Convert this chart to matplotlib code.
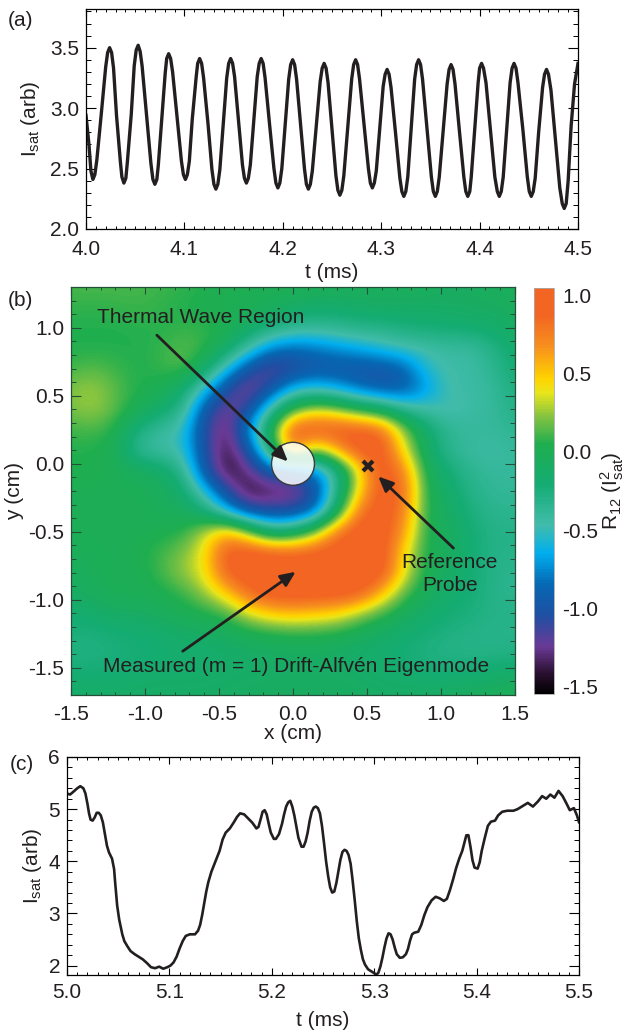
import matplotlib
matplotlib.use("Agg")
import matplotlib.pyplot as plt
from matplotlib.colors import LinearSegmentedColormap
from matplotlib.patches import Ellipse
from matplotlib.ticker import MultipleLocator

plt.rcParams['font.family'] = ['Liberation Sans', 'DejaVu Sans']
plt.rcParams['mathtext.fontset'] = 'custom'
plt.rcParams['mathtext.rm'] = 'Liberation Sans'
plt.rcParams['mathtext.default'] = 'rm'
plt.rcParams['axes.unicode_minus'] = False

W, H = 628, 1034
INK = '#231f20'
FS = 15

# panel (a)
t_a = [4.000, 4.003, 4.005, 4.007, 4.009, 4.011, 4.0155, 4.020, 4.022, 4.024, 4.026, 4.028, 4.031, 4.035, 4.0365, 4.0385,
       4.0405, 4.042, 4.046, 4.049, 4.051, 4.053, 4.055, 4.057, 4.0615, 4.066, 4.068, 4.070, 4.072, 4.0735, 4.077, 4.0805,
       4.082, 4.084, 4.086, 4.088, 4.0925, 4.097, 4.099, 4.101, 4.103, 4.105, 4.108, 4.112, 4.1135, 4.1155, 4.1175, 4.1195,
       4.124, 4.128, 4.130, 4.132, 4.134, 4.136, 4.1395, 4.143, 4.145, 4.147, 4.149, 4.151, 4.155, 4.159, 4.161, 4.163,
       4.165, 4.167, 4.1705, 4.174, 4.176, 4.178, 4.180, 4.182, 4.1865, 4.191, 4.193, 4.195, 4.197, 4.199, 4.2025, 4.206,
       4.208, 4.210, 4.212, 4.214, 4.218, 4.222, 4.224, 4.226, 4.228, 4.230, 4.234, 4.238, 4.240, 4.242, 4.244, 4.246,
       4.250, 4.254, 4.256, 4.258, 4.260, 4.262, 4.266, 4.270, 4.272, 4.274, 4.276, 4.278, 4.2825, 4.287, 4.289, 4.291,
       4.293, 4.295, 4.2985, 4.302, 4.304, 4.306, 4.308, 4.310, 4.3145, 4.319, 4.321, 4.323, 4.325, 4.327, 4.3305, 4.334,
       4.336, 4.338, 4.340, 4.342, 4.3465, 4.351, 4.353, 4.355, 4.357, 4.359, 4.363, 4.367, 4.369, 4.371, 4.373, 4.375,
       4.3795, 4.384, 4.386, 4.388, 4.390, 4.3915, 4.395, 4.3985, 4.400, 4.402, 4.404, 4.4065, 4.411, 4.4155, 4.418, 4.420,
       4.422, 4.424, 4.4275, 4.431, 4.433, 4.435, 4.437, 4.439, 4.444, 4.4485, 4.4505, 4.4525, 4.4545, 4.4565, 4.460, 4.464,
       4.466, 4.468, 4.470, 4.4725, 4.477, 4.4815, 4.484, 4.486, 4.488, 4.490, 4.493, 4.4965, 4.500]
v_a = [2.94, 2.70, 2.48, 2.41, 2.45, 2.57, 2.95, 3.34, 3.46, 3.50, 3.46, 3.33, 2.94, 2.55, 2.43, 2.38,
       2.42, 2.55, 2.95, 3.35, 3.48, 3.52, 3.47, 3.35, 2.95, 2.54, 2.41, 2.37, 2.41, 2.53, 2.91, 3.29,
       3.41, 3.45, 3.41, 3.30, 2.93, 2.56, 2.45, 2.41, 2.45, 2.56, 2.91, 3.26, 3.37, 3.41, 3.37, 3.25,
       2.87, 2.49, 2.37, 2.33, 2.37, 2.49, 2.87, 3.25, 3.37, 3.41, 3.37, 3.26, 2.90, 2.53, 2.42, 2.38,
       2.42, 2.53, 2.90, 3.26, 3.37, 3.41, 3.37, 3.25, 2.87, 2.50, 2.38, 2.34, 2.38, 2.50, 2.87, 3.24,
       3.36, 3.40, 3.36, 3.24, 2.87, 2.50, 2.37, 2.33, 2.37, 2.48, 2.85, 3.22, 3.33, 3.37, 3.33, 3.21,
       2.82, 2.44, 2.32, 2.28, 2.32, 2.44, 2.84, 3.24, 3.36, 3.40, 3.36, 3.24, 2.87, 2.50, 2.38, 2.34,
       2.38, 2.48, 2.83, 3.18, 3.28, 3.32, 3.28, 3.17, 2.80, 2.42, 2.31, 2.27, 2.31, 2.43, 2.83, 3.24,
       3.36, 3.40, 3.36, 3.24, 2.83, 2.43, 2.31, 2.27, 2.31, 2.43, 2.81, 3.20, 3.32, 3.36, 3.32, 3.20,
       2.81, 2.43, 2.31, 2.27, 2.31, 2.43, 2.82, 3.21, 3.33, 3.37, 3.33, 3.21, 2.82, 2.43, 2.31, 2.27,
       2.31, 2.43, 2.82, 3.21, 3.33, 3.37, 3.33, 3.21, 2.82, 2.43, 2.31, 2.27, 2.31, 2.42, 2.80, 3.17,
       3.28, 3.32, 3.28, 3.15, 2.75, 2.34, 2.21, 2.17, 2.21, 2.40, 2.85, 3.20, 3.37]

# panel (c)
t_c = [5.000, 5.003, 5.006, 5.010, 5.013, 5.016, 5.018, 5.020, 5.0215, 5.023, 5.025, 5.027, 5.029, 5.031, 5.033, 5.035,
       5.037, 5.039, 5.041, 5.044, 5.046, 5.047, 5.049, 5.051, 5.054, 5.056, 5.059, 5.062, 5.066, 5.070, 5.074, 5.078,
       5.082, 5.086, 5.090, 5.094, 5.098, 5.101, 5.104, 5.107, 5.110, 5.113, 5.116, 5.120, 5.125, 5.128, 5.130, 5.132,
       5.134, 5.136, 5.138, 5.141, 5.145, 5.149, 5.152, 5.155, 5.159, 5.163, 5.166, 5.169, 5.173, 5.177, 5.181, 5.185,
       5.187, 5.189, 5.191, 5.193, 5.195, 5.197, 5.199, 5.202, 5.204, 5.207, 5.210, 5.212, 5.214, 5.216, 5.218, 5.220,
       5.222, 5.224, 5.226, 5.229, 5.231, 5.233, 5.235, 5.237, 5.239, 5.241, 5.243, 5.245, 5.247, 5.249, 5.251, 5.253,
       5.255, 5.257, 5.259, 5.261, 5.263, 5.265, 5.267, 5.269, 5.271, 5.273, 5.275, 5.277, 5.279, 5.281, 5.283, 5.285,
       5.287, 5.289, 5.291, 5.294, 5.298, 5.302, 5.304, 5.306, 5.308, 5.310, 5.312, 5.314, 5.316, 5.318, 5.320, 5.322,
       5.325, 5.328, 5.331, 5.333, 5.335, 5.337, 5.339, 5.343, 5.346, 5.349, 5.352, 5.356, 5.360, 5.364, 5.368, 5.371,
       5.374, 5.377, 5.380, 5.383, 5.386, 5.388, 5.390, 5.392, 5.394, 5.396, 5.398, 5.401, 5.403, 5.405, 5.408, 5.411,
       5.414, 5.418, 5.421, 5.425, 5.430, 5.436, 5.440, 5.445, 5.450, 5.455, 5.460, 5.464, 5.468, 5.472, 5.476, 5.480,
       5.484, 5.488, 5.491, 5.495, 5.498, 5.500]
v_c = [5.30, 5.28, 5.33, 5.40, 5.44, 5.40, 5.30, 5.10, 4.92, 4.80, 4.78, 4.84, 4.93, 4.93, 4.88, 4.75,
       4.52, 4.30, 4.17, 4.05, 3.85, 3.60, 3.15, 2.88, 2.60, 2.47, 2.37, 2.28, 2.22, 2.17, 2.12, 2.05,
       1.97, 1.95, 1.98, 1.94, 1.97, 2.00, 2.06, 2.17, 2.33, 2.47, 2.57, 2.60, 2.60, 2.67, 2.78, 2.97,
       3.20, 3.42, 3.60, 3.80, 4.00, 4.20, 4.42, 4.55, 4.63, 4.75, 4.85, 4.92, 4.90, 4.82, 4.74, 4.63,
       4.66, 4.80, 4.95, 4.98, 4.90, 4.72, 4.55, 4.43, 4.43, 4.52, 4.72, 4.90, 5.05, 5.13, 5.16, 5.05,
       4.88, 4.66, 4.45, 4.28, 4.28, 4.38, 4.55, 4.78, 4.95, 5.03, 5.05, 5.02, 4.92, 4.68, 4.35, 4.00,
       3.72, 3.50, 3.40, 3.42, 3.58, 3.80, 4.03, 4.18, 4.22, 4.20, 4.12, 3.95, 3.62, 3.25, 2.85, 2.52,
       2.30, 2.12, 2.02, 1.93, 1.88, 1.83, 1.86, 1.98, 2.15, 2.35, 2.52, 2.62, 2.60, 2.50, 2.35, 2.22,
       2.15, 2.16, 2.22, 2.32, 2.48, 2.60, 2.63, 2.65, 2.78, 2.97, 3.12, 3.25, 3.32, 3.29, 3.24, 3.28,
       3.45, 3.65, 3.87, 4.05, 4.20, 4.35, 4.50, 4.50, 4.28, 4.02, 3.88, 3.86, 3.98, 4.20, 4.45, 4.68,
       4.76, 4.78, 4.88, 4.95, 4.97, 4.97, 5.00, 5.06, 5.12, 5.05, 5.15, 5.25, 5.20, 5.28, 5.22, 5.35,
       5.25, 5.10, 4.98, 5.02, 4.88, 4.75]

# panel (b) : correlation map, one row per y, one column per x
x_b = [-1.5, -1.35, -1.2, -1.05, -0.9, -0.75, -0.6, -0.45, -0.3, -0.15, 0.0,
       0.15, 0.3, 0.45, 0.6, 0.75, 0.9, 1.05, 1.2, 1.35, 1.5]
y_b = [1.3, 1.15, 1.0, 0.85, 0.7, 0.55, 0.4, 0.25, 0.1, -0.05, -0.2,
       -0.35, -0.5, -0.65, -0.8, -0.95, -1.1, -1.25, -1.4, -1.55, -1.7]
r12 = [
    [.12, .12, .12, .12, .10, .08, .05, .03, .02, .02, 0, 0, -.02, -.03, -.03, -.05, -.05, -.08, -.08, -.05, -.03],
    [.08, .08, .08, .10, .08, .05, .03, .02, 0, -.03, -.10, -.15, -.15, -.12, -.10, -.10, -.10, -.10, -.08, -.08, -.05],
    [.05, .05, .05, .06, .06, .08, .08, .03, -.10, -.25, -.35, -.38, -.35, -.30, -.30, -.25, -.22, -.20, -.18, -.15, -.10],
    [.05, .05, .05, .05, .08, .15, .10, -.10, -.42, -.75, -.85, -.80, -.72, -.65, -.55, -.48, -.45, -.42, -.42, -.30, -.15],
    [.10, .15, .10, .05, .08, .15, -.10, -.55, -1.0, -1.25, -1.1, -1.0, -1.0, -1.0, -1.0, -.90, -.55, -.45, -.45, -.35, -.20],
    [.22, .27, .15, .05, .03, -.15, -.55, -1.05, -1.35, -1.0, -.60, -.55, -.65, -.85, -.95, -.95, -.72, -.45, -.45, -.40, -.25],
    [.20, .27, .15, 0, -.15, -.30, -.95, -1.3, -1.05, -.40, .10, .35, .25, .05, -.10, -.35, -.45, -.50, -.45, -.40, -.30],
    [.10, .12, .05, -.25, -.40, -.50, -1.05, -1.4, -.70, 0, 1.0, 1.0, 1.0, .95, .85, .25, -.15, -.35, -.40, -.40, -.35],
    [.05, .05, 0, -.38, -.45, -.50, -1.0, -1.45, -1.0, -.20, .80, .15, .60, 1.0, 1.0, .40, -.10, -.35, -.42, -.45, -.40],
    [.05, .05, 0, -.05, -.10, -.30, -.95, -1.45, -1.3, -.90, -.90, -.80, -.35, .40, 1.0, .75, -.02, -.20, -.35, -.40, -.40],
    [0, 0, 0, 0, -.05, -.15, -.55, -1.05, -1.45, -1.4, -1.35, -1.05, -.30, .45, 1.0, .85, .05, -.15, -.30, -.38, -.38],
    [0, 0, 0, 0, -.02, -.05, -.20, -.60, -1.0, -1.05, -1.05, -.85, -.10, .80, 1.0, .75, .05, -.10, -.25, -.33, -.35],
    [0, 0, 0, 0, .02, .05, .30, .60, .25, -.25, -.15, .20, .80, 1.0, 1.0, .65, .03, -.05, -.20, -.30, -.30],
    [-.03, -.02, 0, .02, .10, .20, .40, .95, 1.0, .95, .90, .95, 1.0, 1.0, 1.0, .45, .03, -.05, -.20, -.30, -.30],
    [-.05, -.03, 0, 0, .10, .25, .38, .90, 1.0, 1.0, 1.0, 1.0, 1.0, 1.0, 1.0, .40, 0, -.10, -.20, -.30, -.35],
    [-.10, -.05, 0, 0, .02, .08, .25, .50, .85, 1.0, 1.0, 1.0, 1.0, .95, .55, .15, -.05, -.15, -.22, -.30, -.35],
    [-.20, -.15, -.10, -.10, -.05, 0, .03, .10, .35, .50, .55, .50, .45, .25, .10, -.05, -.15, -.20, -.25, -.30, -.30],
    [-.25, -.25, -.22, -.20, -.18, -.12, -.10, -.08, -.02, .02, .05, .05, .02, -.05, -.12, -.18, -.22, -.28, -.30, -.32, -.32],
    [-.28, -.28, -.25, -.22, -.20, -.18, -.18, -.15, -.12, -.12, -.10, -.10, -.12, -.15, -.18, -.22, -.28, -.30, -.30, -.30, -.28],
    [-.20, -.20, -.20, -.18, -.15, -.15, -.15, -.12, -.12, -.10, -.10, -.10, -.10, -.12, -.15, -.18, -.20, -.20, -.20, -.15, -.12],
    [-.12, -.12, -.12, -.10, -.10, -.10, -.10, -.10, -.08, -.08, -.08, -.08, -.08, -.08, -.10, -.10, -.10, -.08, -.05, -.03, 0],
]

VMIN, VMAX = -1.55, 1.05
stops = [(-1.55, '#000000'), (-1.42, '#2a1030'), (-1.25, '#6a3a96'), (-1.05, '#1f4fa3'),
         (-0.85, '#0668b3'), (-0.65, '#00aeef'), (-0.47, '#41bcaa'), (-0.2, '#14ac72'),
         (0.05, '#1fae4f'), (0.22, '#7fc242'), (0.38, '#e8e51b'), (0.47, '#ffd400'),
         (0.68, '#f78f1e'), (0.88, '#f26522'), (1.05, '#f26522')]
cmap = LinearSegmentedColormap.from_list(
    'r12', [((v - VMIN) / (VMAX - VMIN), c) for v, c in stops])


def rect(left, top, right, bottom):
    return [left / W, 1 - bottom / H, (right - left) / W, (bottom - top) / H]


def style(ax, xmaj, xmin, ymaj, ymin, xpad, col='black'):
    ax.xaxis.set_major_locator(MultipleLocator(xmaj))
    ax.xaxis.set_minor_locator(MultipleLocator(xmin))
    ax.yaxis.set_major_locator(MultipleLocator(ymaj))
    ax.yaxis.set_minor_locator(MultipleLocator(ymin))
    ax.tick_params(axis='y', which='major', direction='in', left=True, right=True, length=7, width=0.8, color=col)
    ax.tick_params(axis='y', which='minor', direction='in', left=True, right=True, length=3.5, width=0.7, color=col)
    ax.tick_params(axis='x', which='major', direction='in', bottom=True, top=True, length=5, width=0.8, color=col)
    ax.tick_params(axis='x', which='minor', direction='in', bottom=True, top=True, length=2.2, width=0.7, color=col)
    ax.tick_params(axis='y', labelsize=FS, labelcolor=INK, pad=5)
    ax.tick_params(axis='x', labelsize=FS, labelcolor=INK, pad=xpad)
    ax.xaxis.set_major_formatter('{x:.1f}')
    for s in ax.spines.values():
        s.set_linewidth(0.9)
        s.set_color(col)


fig = plt.figure(figsize=(W / 100, H / 100), dpi=100)

ax_a = fig.add_axes(rect(86, 9, 578, 229))
ax_a.plot(t_a, v_a, color=INK, lw=2.4)
ax_a.set_xlim(4.0, 4.5)
ax_a.set_ylim(2.0, 3.82)
style(ax_a, 0.1, 0.01, 0.5, 0.1, 8)
ax_a.yaxis.set_major_formatter('{x:.1f}')
ax_a.set_xlabel('t (ms)', fontsize=FS, color=INK, labelpad=3)
ax_a.set_ylabel(r'I$_{sat}$ (arb)', fontsize=FS, color=INK, labelpad=6)

ax_b = fig.add_axes(rect(71, 287, 515, 695))
im = ax_b.imshow(r12, cmap=cmap, vmin=VMIN, vmax=VMAX, aspect='auto', interpolation='bicubic',
                 extent=[x_b[0] - 0.075, x_b[-1] + 0.075, y_b[-1] - 0.075, y_b[0] + 0.075])
ax_b.set_xlim(-1.5, 1.5)
ax_b.set_ylim(-1.7, 1.3)
style(ax_b, 0.5, 0.1, 0.5, 0.1, 7, col='#24503a')
ax_b.yaxis.set_major_formatter('{x:.1f}')
ax_b.set_xlabel('x (cm)', fontsize=FS, color=INK, labelpad=0)
ax_b.set_ylabel('y (cm)', fontsize=FS, color=INK, labelpad=3)

ax_b.add_patch(Ellipse((0, 0), 0.29, 0.316, fc='white', alpha=0.85, ec='none', zorder=3))
ax_b.add_patch(Ellipse((0, 0), 0.29, 0.316, fc='none', ec='#3a3a3a', lw=1, zorder=3))
ax_b.plot([0.508], [-0.015], marker='x', ms=7.5, mew=3, color=INK, zorder=5)

arrow = dict(arrowstyle='-|>,head_length=0.9,head_width=0.4', color=INK, lw=2, shrinkA=0, shrinkB=0)
ax_b.annotate('', xy=(-0.034, 0.017), xytext=(-0.92, 0.946), arrowprops=arrow, zorder=6)
ax_b.annotate('', xy=(0.576, -0.093), xytext=(1.084, -0.62), arrowprops=arrow, zorder=6)
ax_b.annotate('', xy=(0.018, -0.794), xytext=(-0.745, -1.378), arrowprops=arrow, zorder=6)
ax_b.text(-0.627, 1.074, 'Thermal Wave Region', fontsize=FS, color=INK, ha='center', va='center')
ax_b.text(1.06, -0.81, 'Reference\nProbe', fontsize=FS, color=INK, ha='center', va='center', linespacing=1.25)
ax_b.text(0.02, -1.49, 'Measured (m = 1) Drift-Alfvén Eigenmode', fontsize=FS, color=INK, ha='center', va='center')

cax = fig.add_axes(rect(534, 288, 554, 694))
cb = fig.colorbar(im, cax=cax)
cb.set_ticks([-1.5, -1.0, -0.5, 0.0, 0.5, 1.0])
cb.set_ticklabels(['-1.5', '-1.0', '-0.5', '0.0', '0.5', '1.0'])
cb.ax.tick_params(length=0, labelsize=FS, labelcolor=INK, pad=6)
cb.outline.set_edgecolor('#aaaaaa')
cb.outline.set_linewidth(0.6)
cb.set_label(r'R$_{12}$ (I$^{2}_{sat}$)', fontsize=FS, color=INK, labelpad=0)

ax_c = fig.add_axes(rect(67, 757, 579, 975))
ax_c.plot(t_c, v_c, color=INK, lw=1.9)
ax_c.set_xlim(5.0, 5.5)
ax_c.set_ylim(1.82, 6.0)
style(ax_c, 0.1, 0.01, 1, 0.2, 6)
ax_c.yaxis.set_major_formatter('{x:.0f}')
ax_c.set_xlabel('t (ms)', fontsize=FS, color=INK, labelpad=6)
ax_c.set_ylabel(r'I$_{sat}$ (arb)', fontsize=FS, color=INK, labelpad=3)

fig.text(8 / W, 1 - 21 / H, '(a)', fontsize=FS, color=INK, va='center')
fig.text(8 / W, 1 - 301 / H, '(b)', fontsize=FS, color=INK, va='center')
fig.text(10 / W, 1 - 764 / H, '(c)', fontsize=FS, color=INK, va='center')

fig.savefig('out.png', dpi=100)
